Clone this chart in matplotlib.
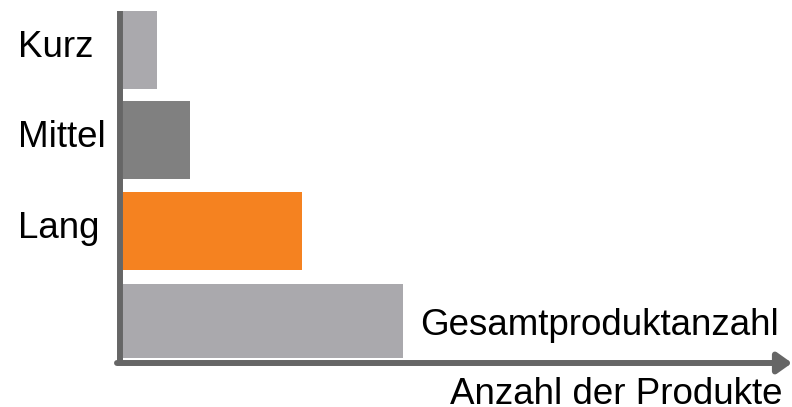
import matplotlib
matplotlib.use("Agg")
import matplotlib.pyplot as plt
from matplotlib.transforms import blended_transform_factory


CATEGORIES = ['Kurz', 'Mittel', 'Lang']
TOTAL_LABEL = 'Gesamtproduktanzahl'
X_LABEL = 'Anzahl der Produkte'

# rough sizes (total = 100)
VALUES = [12, 24, 64]
TOTAL = 100

COLORS = ['#AAA9AD', '#808080', '#F58220']
TOTAL_COLOR = '#AAA9AD'
AXIS_COLOR = '#666666'


def main():
    plt.rcParams['font.family'] = ['Liberation Sans', 'DejaVu Sans']
    W, H = 792, 407
    fig = plt.figure(figsize=(W / 100, H / 100), dpi=100)
    ax = fig.add_axes([123 / W, 47 / H, 669 / W, 349 / H])

    n = len(CATEGORIES)
    ypos = list(range(n, 0, -1))
    bar_h = 0.857
    ax.barh(ypos, VALUES, height=bar_h, color=COLORS, linewidth=0)
    ax.barh([0], [TOTAL], height=bar_h * 0.95, color=TOTAL_COLOR, linewidth=0)

    ax.set_ylim(-bar_h / 2, n + bar_h / 2)
    ax.set_xlim(0, TOTAL * 669 / 280)
    ax.axis('off')

    # category labels on the left, baseline a bit below bar centre
    tr = blended_transform_factory(fig.transFigure, ax.transData)
    for y, name in zip(ypos, CATEGORIES):
        ax.text(18 / W, y - 0.08, name, transform=tr, ha='left', va='baseline',
                fontsize=26.5, color='black')

    ax.annotate(TOTAL_LABEL, xy=(TOTAL, 0), xytext=(12, -10),
                textcoords='offset points', ha='left', va='baseline',
                fontsize=26.5, color='black')

    # axes: vertical line and horizontal arrow
    ax.plot([-3 / 669 * ax.get_xlim()[1]] * 2, [-bar_h / 2 - 0.03, n + bar_h / 2],
            color=AXIS_COLOR, lw=4.3, solid_capstyle='butt', clip_on=False)
    ax.annotate('', xy=(1.0, -3 / 349), xytext=(-6 / 669, -3 / 349),
                xycoords='axes fraction', textcoords='axes fraction',
                arrowprops=dict(arrowstyle='-|>,head_length=0.86,head_width=0.61',
                                mutation_scale=10, lw=4.3, color=AXIS_COLOR,
                                shrinkA=0, shrinkB=0))

    fig.text(782 / W, 3 / H, X_LABEL, ha='right', va='baseline',
             fontsize=26.5, color='black')

    fig.savefig('out.png', dpi=100)


if __name__ == '__main__':
    main()
